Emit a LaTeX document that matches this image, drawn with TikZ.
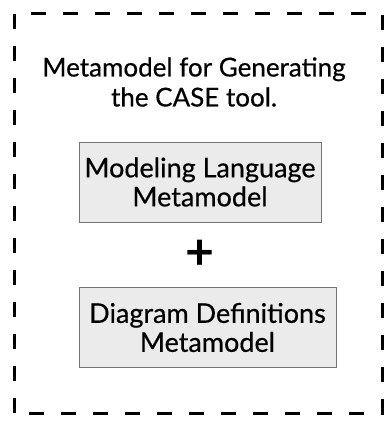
\documentclass[tikz,border=0pt]{standalone}
\usepackage{fontspec}
\setmainfont{Lato}
\newfontfamily\medfont{Lato}[FakeBold=0.5]
\usetikzlibrary{positioning}
\tikzset{metabox/.style={draw=black!55,fill=black!8,line width=0.8pt,minimum height=80pt,align=center,inner sep=0pt,font=\medfont\fontsize{27}{29}\selectfont},
         frame/.style={line width=3pt,dash pattern=on 15pt off 17pt}
}
\begin{document}
\begin{tikzpicture}[x=1pt,y=1pt,yscale=-1]
\useasboundingbox (0,0) rectangle (384,425);

% outer frame
\draw [frame] (14,413) -- (14,14) -- (382,14) -- (382,413) -- cycle;

% title
\node (title) at (194,82) [align=center,inner sep=0pt,font=\medfont\fontsize{26}{30}\selectfont] {Metamodel for Generating\\the CASE tool.};

% the two metamodels
\node (lang) [metabox,minimum width=242pt] at (200,182) {Modeling Language\\Metamodel};
\node (plus) [font=\fontsize{50}{50}\bfseries] at (200,255) {+};
\node (diag) [metabox,minimum width=257pt] at (207.5,327.5) {Diagram Definitions\\Metamodel};

\end{tikzpicture}
\end{document}
